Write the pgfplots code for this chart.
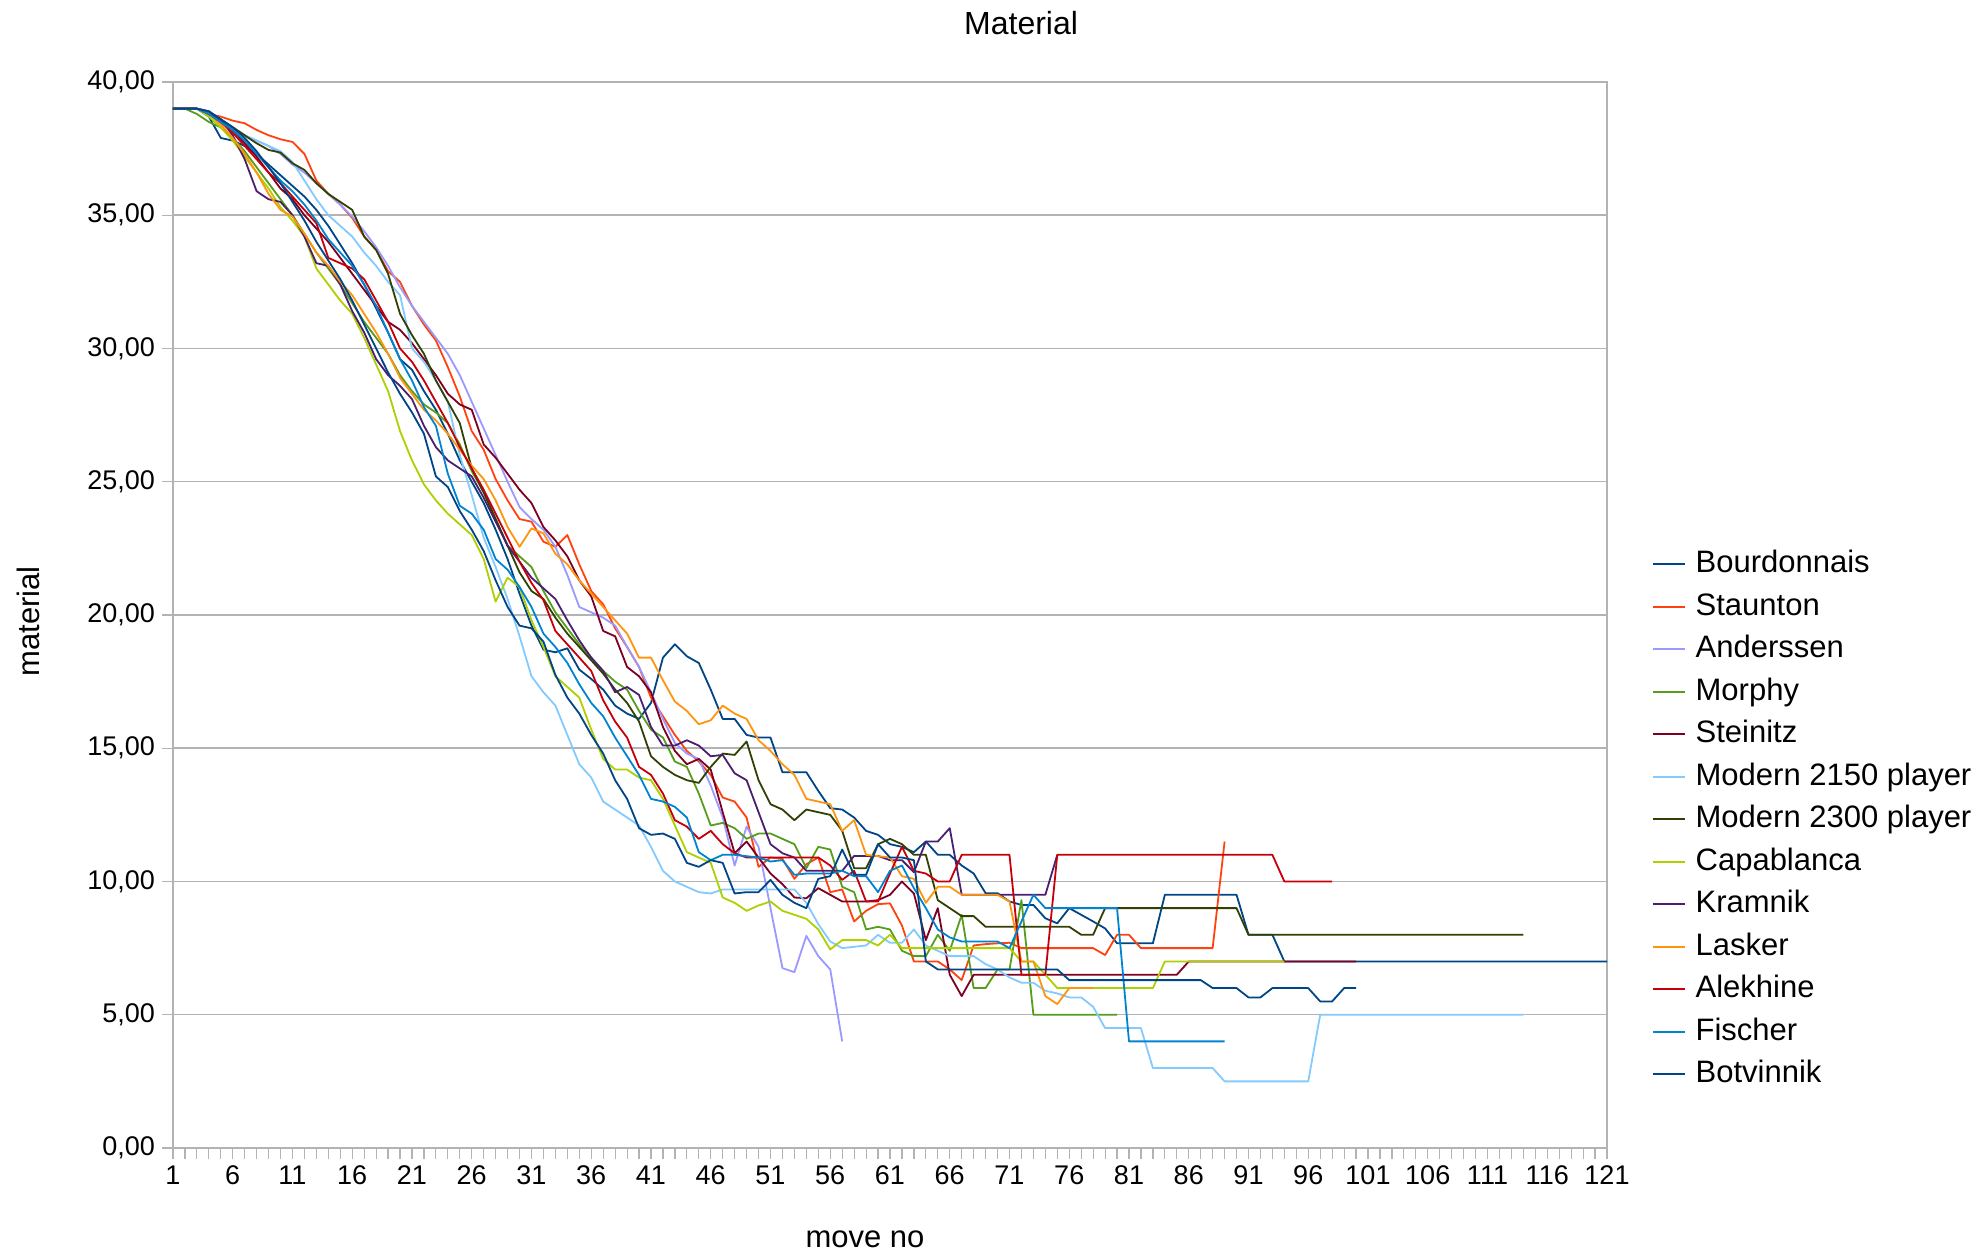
\documentclass[border=0pt]{standalone}
\usepackage{fontspec}
\setmainfont{Liberation Sans}
\usepackage{pgfplots}
\pgfplotsset{compat=1.18}

\definecolor{cBour}{HTML}{004586}
\definecolor{cStau}{HTML}{FF420E}
\definecolor{cAnde}{HTML}{9999FF}
\definecolor{cMorp}{HTML}{579D1C}
\definecolor{cStei}{HTML}{7E0021}
\definecolor{cMa}{HTML}{83CAFF}
\definecolor{cMb}{HTML}{314004}
\definecolor{cCapa}{HTML}{AECF00}
\definecolor{cKram}{HTML}{4B1F6F}
\definecolor{cLask}{HTML}{FF950E}
\definecolor{cAlek}{HTML}{C5000B}
\definecolor{cFisc}{HTML}{0084D1}
\definecolor{gridgray}{HTML}{B3B3B3}

\begin{document}
\begin{tikzpicture}
\path[use as bounding box] (0,0) rectangle (994pt,629pt);
\begin{axis}[
  at={(86.5pt,55pt)}, anchor=south west,
  width=717pt, height=533pt, scale only axis,
  xmin=1, xmax=121, ymin=0, ymax=40,
  xtick={1,6,...,121}, minor x tick num=4,
  ytick={0,5,...,40},
  xtick pos=bottom, ytick pos=left,
  tick align=outside,
  major tick length=5.5pt, minor tick length=5.5pt,
  every tick/.style={color=gridgray, line width=0.6pt},
  axis line style={color=gridgray, line width=0.75pt},
  ymajorgrids, grid style={color=gridgray, line width=0.75pt},
  yticklabel style={/pgf/number format/.cd, fixed, fixed zerofill, precision=2, use comma, assume math mode=true},
  xticklabel style={/pgf/number format/assume math mode=true},
  tick label style={font=\fontsize{13.5}{16}\selectfont},
  title={Material},
  every axis title/.style={at={(axis description cs:0.5914,1.0553)}, anchor=center, font=\fontsize{16}{19}\selectfont},
  xlabel={move no},
  every axis x label/.style={at={(axis description cs:0.4826,-0.0854)}, anchor=center, font=\fontsize{15.5}{18}\selectfont},
  ylabel={material},
  every axis y label/.style={at={(axis description cs:-0.101,0.494)}, rotate=90, anchor=center, font=\fontsize{15.5}{18}\selectfont},
  legend style={at={(1.031,0.562)}, anchor=north west, draw=none, fill=none,
    font=\fontsize{15.5}{18}\selectfont, row sep=6.35pt, column sep=5pt, inner sep=0pt,
    nodes={inner sep=0pt, text height=11.6pt, text depth=3.3pt}},
  legend cell align=left,
  legend image code/.code={\draw[#1] (0pt,0pt) -- (16pt,0pt);},
  every axis plot/.append style={line width=0.9pt, line join=round, mark=none},
]
% Bourdonnais
\addplot[cBour] coordinates {(1,39)(2,39)(3,39)(4,38.7)(5,37.9)(6,37.8)(7,37.6)(8,37.3)(9,36.9)(10,36.5)(11,36.1)(12,35.7)(13,35.2)(14,34.6)(15,33.9)(16,33.2)(17,32.4)(18,31.5)(19,30.6)(20,29.6)(21,29.2)(22,28.4)(23,27.7)(24,26.8)(25,25.8)(26,25.0)(27,24.2)(28,23.2)(29,22.1)(30,20.8)(31,19.6)(32,18.7)(33,18.6)(34,18.75)(35,17.95)(36,17.6)(37,17.2)(38,16.6)(39,16.3)(40,16.1)(41,16.7)(42,18.4)(43,18.9)(44,18.45)(45,18.2)(46,17.2)(47,16.1)(48,16.1)(49,15.5)(50,15.4)(51,15.4)(52,14.1)(53,14.1)(54,14.1)(55,13.4)(56,12.75)(57,12.7)(58,12.4)(59,11.9)(60,11.75)(61,11.4)(62,11.3)(63,11.1)(64,11.5)(65,11.0)(66,11.0)(67,10.6)(68,10.3)(69,9.56)(70,9.56)(71,9.25)(72,9.12)(73,9.12)(74,8.62)(75,8.43)(76,9.0)(77,8.75)(78,8.5)(79,8.24)(80,7.68)(83,7.68)(84,9.5)(90,9.5)(91,8.0)(93,8.0)(94,7.0)(121,7.0)};
\addlegendentry{Bourdonnais}
% Staunton
\addplot[cStau] coordinates {(1,39)(2,39)(3,39)(4,38.8)(5,38.7)(6,38.55)(7,38.45)(8,38.2)(9,38.0)(10,37.85)(11,37.75)(12,37.3)(13,36.3)(14,35.8)(15,35.4)(16,34.9)(17,34.2)(18,33.7)(19,32.9)(20,32.5)(21,31.6)(22,30.9)(23,30.3)(24,29.3)(25,28.2)(26,26.9)(27,26.2)(28,25.1)(29,24.3)(30,23.6)(31,23.5)(32,22.75)(33,22.56)(34,23.0)(35,21.9)(36,20.9)(37,20.4)(38,19.5)(39,18.8)(40,18.05)(41,16.9)(42,16.2)(43,15.5)(44,14.9)(45,14.5)(46,14.0)(47,13.15)(48,13.0)(49,12.4)(50,10.55)(51,10.9)(52,10.85)(53,10.1)(54,10.65)(55,10.9)(56,9.6)(57,9.7)(58,8.5)(59,8.9)(60,9.15)(61,9.18)(62,8.35)(63,7.0)(65,7.0)(66,6.7)(67,6.3)(68,7.6)(69,7.65)(70,7.68)(71,7.7)(72,7.5)(78,7.5)(79,7.24)(80,8.0)(81,8.0)(82,7.5)(88,7.5)(89,11.5)};
\addlegendentry{Staunton}
% Anderssen
\addplot[cAnde] coordinates {(1,39)(2,39)(3,39)(4,38.8)(5,38.5)(6,38.3)(7,38.0)(8,37.8)(9,37.6)(10,37.3)(11,36.9)(12,36.6)(13,36.2)(14,35.8)(15,35.4)(16,34.95)(17,34.4)(18,33.8)(19,33.1)(20,32.3)(21,31.6)(22,31.0)(23,30.4)(24,29.8)(25,29.0)(26,28.0)(27,27.0)(28,26.0)(29,25.0)(30,24.05)(31,23.6)(32,23.2)(33,22.56)(34,21.5)(35,20.3)(36,20.1)(37,19.9)(38,19.6)(39,18.8)(40,18.05)(41,17.1)(42,16.1)(43,15.2)(44,14.8)(45,14.6)(46,13.6)(47,12.4)(48,10.6)(49,12.06)(50,11.3)(51,9.0)(52,6.75)(53,6.6)(54,7.96)(55,7.2)(56,6.7)(57,4.0)};
\addlegendentry{Anderssen}
% Morphy
\addplot[cMorp] coordinates {(1,39)(2,39)(3,38.8)(4,38.5)(5,38.3)(6,37.9)(7,37.4)(8,36.8)(9,36.2)(10,35.6)(11,35.0)(12,34.3)(13,33.6)(14,33.0)(15,32.4)(16,31.7)(17,31.0)(18,30.4)(19,29.8)(20,29.0)(21,28.4)(22,27.9)(23,27.6)(24,27.2)(25,26.4)(26,25.4)(27,24.6)(28,23.6)(29,22.6)(30,22.2)(31,21.8)(32,20.9)(33,20.1)(34,19.5)(35,18.9)(36,18.4)(37,17.9)(38,17.5)(39,17.2)(40,16.4)(41,15.7)(42,15.4)(43,14.5)(44,14.3)(45,13.3)(46,12.1)(47,12.2)(48,12.0)(49,11.6)(50,11.8)(51,11.8)(52,11.6)(53,11.4)(54,10.5)(55,11.3)(56,11.2)(57,9.8)(58,9.6)(59,8.2)(60,8.3)(61,8.2)(62,7.4)(63,7.2)(64,7.2)(65,8.0)(66,7.4)(67,8.75)(68,6.0)(69,6.0)(70,6.7)(71,6.7)(72,9.3)(73,5.0)(80,5.0)};
\addlegendentry{Morphy}
% Steinitz
\addplot[cStei] coordinates {(1,39)(2,39)(3,39)(4,38.8)(5,38.5)(6,38.2)(7,37.7)(8,37.2)(9,36.6)(10,36.0)(11,35.6)(12,35.0)(13,34.5)(14,34.0)(15,33.4)(16,32.8)(17,32.2)(18,31.6)(19,31.0)(20,30.7)(21,30.2)(22,29.6)(23,29.0)(24,28.3)(25,27.9)(26,27.7)(27,26.4)(28,25.9)(29,25.3)(30,24.7)(31,24.2)(32,23.3)(33,22.8)(34,22.2)(35,21.3)(36,20.7)(37,19.4)(38,19.2)(39,18.05)(40,17.7)(41,17.1)(42,15.8)(43,14.9)(44,14.4)(45,14.6)(46,14.2)(47,12.6)(48,11.06)(49,11.5)(50,10.9)(51,10.3)(52,9.9)(53,9.4)(54,9.37)(55,9.75)(56,9.5)(57,9.25)(59,9.25)(60,9.3)(61,9.5)(62,10.0)(63,9.55)(64,7.8)(65,9.0)(66,6.5)(67,5.7)(68,6.5)(85,6.5)(86,7.0)(100,7.0)};
\addlegendentry{Steinitz}
% Modern 2150 player
\addplot[cMa] coordinates {(1,39)(2,39)(3,39)(4,38.9)(5,38.6)(6,38.3)(7,38.0)(8,37.8)(9,37.6)(10,37.4)(11,37.0)(12,36.3)(13,35.6)(14,35.0)(15,34.6)(16,34.2)(17,33.6)(18,33.1)(19,32.5)(20,32.0)(21,30.0)(22,29.5)(23,28.8)(24,28.0)(25,26.0)(26,24.5)(27,22.9)(28,21.8)(29,20.6)(30,19.2)(31,17.7)(32,17.1)(33,16.6)(34,15.5)(35,14.4)(36,13.9)(37,13.0)(38,12.7)(39,12.4)(40,12.1)(41,11.3)(42,10.4)(43,10.0)(44,9.8)(45,9.6)(46,9.55)(47,9.7)(53,9.7)(54,9.2)(55,8.4)(56,7.75)(57,7.5)(58,7.55)(59,7.6)(60,8.0)(61,7.7)(62,7.7)(63,8.2)(64,7.6)(65,7.4)(66,7.2)(68,7.2)(69,6.9)(70,6.7)(71,6.4)(72,6.2)(73,6.2)(74,5.9)(75,5.8)(76,5.65)(77,5.65)(78,5.3)(79,4.5)(82,4.5)(83,3.0)(88,3.0)(89,2.5)(96,2.5)(97,5.0)(114,5.0)};
\addlegendentry{Modern 2150 player}
% Modern 2300 player
\addplot[cMb] coordinates {(1,39)(2,39)(3,39)(4,38.8)(5,38.6)(6,38.3)(7,38.0)(8,37.7)(9,37.45)(10,37.35)(11,36.95)(12,36.7)(13,36.2)(14,35.8)(15,35.5)(16,35.2)(17,34.2)(18,33.7)(19,32.8)(20,31.3)(21,30.5)(22,29.8)(23,28.8)(24,28.0)(25,27.2)(26,25.5)(27,24.6)(28,23.6)(29,22.6)(30,21.6)(31,20.9)(32,20.6)(33,19.9)(34,19.3)(35,18.8)(36,18.3)(37,17.8)(38,17.2)(39,16.7)(40,16.0)(41,14.7)(42,14.3)(43,14.0)(44,13.8)(45,13.7)(46,14.3)(47,14.8)(48,14.75)(49,15.25)(50,13.8)(51,12.9)(52,12.7)(53,12.3)(54,12.7)(55,12.6)(56,12.5)(57,11.9)(58,10.5)(59,10.5)(60,11.4)(61,11.6)(62,11.4)(63,11.0)(64,11.0)(65,9.3)(66,9.0)(67,8.7)(68,8.7)(69,8.3)(76,8.3)(77,8.0)(78,8.0)(79,9.0)(90,9.0)(91,8.0)(114,8.0)};
\addlegendentry{Modern 2300 player}
% Capablanca
\addplot[cCapa] coordinates {(1,39)(2,39)(3,39)(4,38.7)(5,38.3)(6,37.8)(7,37.2)(8,36.6)(9,36.0)(10,35.3)(11,34.8)(12,34.2)(13,33.0)(14,32.4)(15,31.8)(16,31.3)(17,30.4)(18,29.4)(19,28.4)(20,26.9)(21,25.8)(22,24.9)(23,24.3)(24,23.8)(25,23.4)(26,23.0)(27,22.1)(28,20.5)(29,21.4)(30,21.05)(31,19.8)(32,18.8)(33,17.7)(34,17.3)(35,16.9)(36,15.7)(37,14.6)(38,14.2)(39,14.2)(40,13.9)(41,13.8)(42,13.1)(43,12.1)(44,11.1)(45,10.9)(46,10.7)(47,9.4)(48,9.2)(49,8.9)(50,9.1)(51,9.25)(52,8.9)(53,8.75)(54,8.6)(55,8.2)(56,7.45)(57,7.8)(59,7.8)(60,7.6)(61,8.0)(62,7.5)(71,7.5)(72,7.0)(73,7.0)(74,6.5)(75,6.0)(83,6.0)(84,7.0)(94,7.0)};
\addlegendentry{Capablanca}
% Kramnik
\addplot[cKram] coordinates {(1,39)(2,39)(3,39)(4,38.9)(5,38.6)(6,38.0)(7,37.1)(8,35.9)(9,35.6)(10,35.5)(11,35.0)(12,34.2)(13,33.2)(14,33.1)(15,32.4)(16,31.4)(17,30.6)(18,29.6)(19,29.0)(20,28.6)(21,28.1)(22,27.1)(23,26.3)(24,25.8)(25,25.5)(26,25.2)(27,24.4)(28,23.5)(29,22.6)(30,22.0)(31,21.4)(32,21.0)(33,20.6)(34,19.8)(35,19.05)(36,18.4)(37,17.9)(38,17.1)(39,17.3)(40,17.0)(41,15.8)(42,15.1)(43,15.1)(44,15.3)(45,15.1)(46,14.7)(47,14.75)(48,14.06)(49,13.8)(50,12.6)(51,11.4)(52,11.06)(53,10.9)(54,10.4)(57,10.4)(58,10.96)(60,10.96)(61,10.8)(62,10.8)(63,10.35)(64,11.5)(65,11.5)(66,12.0)(67,9.5)(74,9.5)(75,11.0)};
\addlegendentry{Kramnik}
% Lasker
\addplot[cLask] coordinates {(1,39)(2,39)(3,39)(4,38.8)(5,38.4)(6,37.9)(7,37.3)(8,36.6)(9,35.8)(10,35.2)(11,34.95)(12,34.3)(13,33.6)(14,33.1)(15,32.5)(16,32.0)(17,31.3)(18,30.6)(19,29.8)(20,28.9)(21,28.3)(22,27.7)(23,27.3)(24,26.8)(25,26.2)(26,25.6)(27,25.1)(28,24.3)(29,23.3)(30,22.56)(31,23.25)(32,23.06)(33,22.3)(34,21.9)(35,21.3)(36,20.8)(37,20.3)(38,19.8)(39,19.3)(40,18.4)(41,18.4)(42,17.55)(43,16.75)(44,16.4)(45,15.9)(46,16.05)(47,16.6)(48,16.3)(49,16.1)(50,15.3)(51,14.9)(52,14.4)(53,14.0)(54,13.1)(55,13.0)(56,12.9)(57,11.9)(58,12.3)(59,11.0)(60,10.95)(61,10.9)(62,10.2)(63,10.1)(64,9.2)(65,9.8)(66,9.8)(67,9.5)(70,9.5)(71,9.25)(72,7.0)(73,7.0)(74,5.7)(75,5.4)(76,6.0)(78,6.0)};
\addlegendentry{Lasker}
% Alekhine
\addplot[cAlek] coordinates {(1,39)(2,39)(3,39)(4,38.8)(5,38.5)(6,38.1)(7,37.6)(8,37.1)(9,36.6)(10,36.2)(11,35.7)(12,35.2)(13,34.7)(14,33.4)(15,33.2)(16,33.0)(17,32.6)(18,31.8)(19,31.0)(20,30.0)(21,29.5)(22,28.8)(23,28.0)(24,27.2)(25,26.3)(26,25.5)(27,24.7)(28,23.8)(29,22.9)(30,22.0)(31,21.2)(32,20.56)(33,19.4)(34,18.9)(35,18.4)(36,17.9)(37,16.8)(38,16.0)(39,15.4)(40,14.3)(41,14.0)(42,13.3)(43,12.3)(44,12.06)(45,11.6)(46,11.9)(47,11.4)(48,11.06)(49,10.9)(55,10.9)(56,10.6)(57,10.06)(58,10.4)(59,9.25)(60,9.25)(61,10.3)(62,11.3)(63,10.4)(64,10.3)(65,10.0)(66,10.0)(67,11.0)(71,11.0)(72,6.5)(74,6.5)(75,11.0)(93,11.0)(94,10.0)(98,10.0)};
\addlegendentry{Alekhine}
% Fischer
\addplot[cFisc] coordinates {(1,39)(2,39)(3,39)(4,38.8)(5,38.5)(6,38.2)(7,37.8)(8,37.3)(9,36.8)(10,36.3)(11,35.9)(12,35.4)(13,34.8)(14,34.1)(15,33.6)(16,33.1)(17,32.4)(18,31.6)(19,30.6)(20,29.6)(21,28.8)(22,27.8)(23,27.1)(24,25.3)(25,24.1)(26,23.8)(27,23.2)(28,22.1)(29,21.7)(30,21.05)(31,20.3)(32,19.3)(33,18.8)(34,18.2)(35,17.4)(36,16.7)(37,16.2)(38,15.4)(39,14.7)(40,14.0)(41,13.1)(42,13.0)(43,12.8)(44,12.4)(45,11.1)(46,10.8)(47,11.0)(48,11.0)(49,10.95)(50,10.9)(51,10.75)(52,10.8)(53,10.25)(54,10.3)(56,10.3)(57,10.4)(58,10.2)(59,10.2)(60,9.6)(61,10.4)(62,10.6)(63,9.75)(64,9.0)(65,8.2)(66,7.9)(67,7.75)(70,7.75)(71,7.5)(72,8.5)(73,9.5)(74,9.0)(80,9.0)(81,4.0)(89,4.0)};
\addlegendentry{Fischer}
% Botvinnik
\addplot[cBour] coordinates {(1,39)(2,39)(3,39)(4,38.9)(5,38.6)(6,38.3)(7,37.9)(8,37.4)(9,36.8)(10,36.2)(11,35.5)(12,34.8)(13,34.0)(14,33.3)(15,32.6)(16,31.8)(17,30.9)(18,30.0)(19,29.1)(20,28.3)(21,27.6)(22,26.8)(23,25.2)(24,24.8)(25,23.9)(26,23.2)(27,22.4)(28,21.3)(29,20.3)(30,19.6)(31,19.5)(32,19.0)(33,17.75)(34,16.9)(35,16.3)(36,15.5)(37,14.8)(38,13.8)(39,13.1)(40,12.0)(41,11.75)(42,11.8)(43,11.6)(44,10.7)(45,10.55)(46,10.8)(47,10.7)(48,9.55)(49,9.6)(50,9.6)(51,10.06)(52,9.5)(53,9.2)(54,9.0)(55,10.1)(56,10.2)(57,11.2)(58,10.25)(59,10.25)(60,11.4)(61,10.9)(62,10.9)(63,10.8)(64,7.0)(65,6.7)(75,6.7)(76,6.3)(87,6.3)(88,6.0)(90,6.0)(91,5.65)(92,5.65)(93,6.0)(96,6.0)(97,5.5)(98,5.5)(99,6.0)(100,6.0)};
\addlegendentry{Botvinnik}
\end{axis}
\end{tikzpicture}
\end{document}
